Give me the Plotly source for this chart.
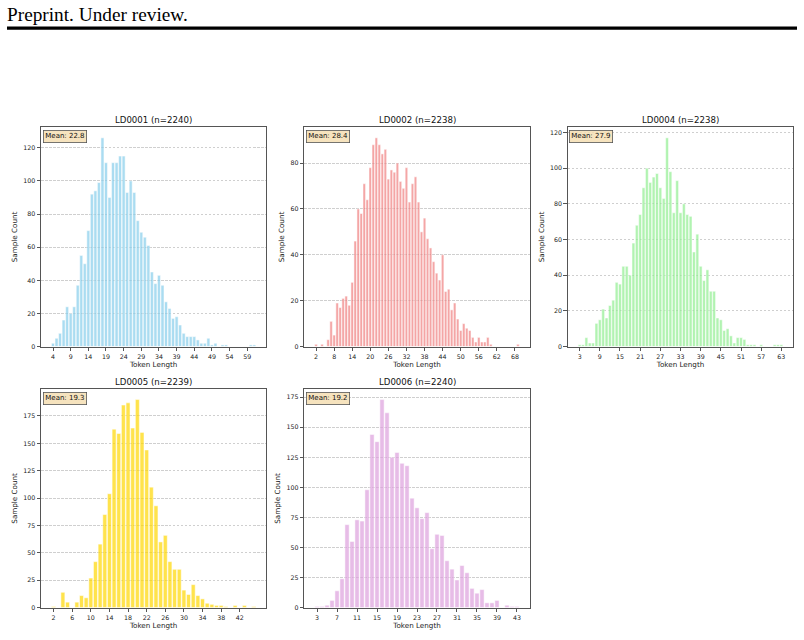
import plotly.graph_objects as go

# ---- data ----
names = ["LD0001", "LD0002", "LD0004", "LD0005", "LD0006"]
n_samples = [2240, 2238, 2238, 2239, 2240]
means = [22.8, 28.4, 27.9, 19.3, 19.2]
starts = [4, 2, 3, 2, 3]  # first token length of each histogram

counts_ld0001 = [2, 5, 8, 16, 24, 20, 24, 37, 55, 50, 70, 92, 94, 99, 126, 111, 90, 111, 111, 115,
                 115, 93, 100, 93, 76, 69, 66, 61, 45, 38, 43, 37, 27, 23, 17, 18, 13, 8, 6, 6,
                 6, 4, 2, 2, 5, 1, 2, 0, 1, 1, 0, 0, 0, 0, 0, 0, 1, 1]
counts_ld0002 = [1, 0, 1, 0, 3, 11, 5, 19, 17, 21, 22, 18, 28, 46, 60, 58, 71, 64, 78, 88,
                 91, 88, 84, 86, 73, 77, 76, 80, 72, 69, 78, 63, 71, 74, 63, 50, 56, 47, 43, 37,
                 32, 29, 40, 24, 25, 16, 19, 12, 7, 10, 8, 7, 4, 2, 4, 2, 2, 4, 1, 0,
                 0, 0, 0, 0, 0, 0, 0, 1]
counts_ld0004 = [1, 1, 5, 2, 2, 13, 15, 21, 16, 23, 26, 36, 35, 45, 45, 40, 58, 68, 74, 89,
                 100, 92, 95, 97, 89, 83, 117, 98, 75, 93, 75, 80, 74, 73, 53, 63, 45, 37, 43, 31,
                 31, 16, 15, 9, 10, 6, 2, 5, 5, 4, 1, 1, 1, 0, 1, 0, 0, 0, 1, 1, 1]
counts_ld0005 = [1, 0, 14, 5, 0, 5, 11, 9, 27, 42, 58, 85, 104, 163, 159, 185, 187, 164, 190, 160,
                 144, 110, 93, 60, 66, 42, 35, 35, 16, 12, 21, 11, 8, 4, 3, 2, 2, 1, 0, 2,
                 0, 2, 0, 1]
counts_ld0006 = [1, 1, 2, 6, 14, 24, 69, 55, 73, 72, 98, 144, 138, 173, 162, 125, 129, 120, 118, 91,
                 83, 74, 79, 49, 61, 60, 39, 32, 23, 35, 29, 16, 12, 15, 4, 4, 6, 0, 2, 1, 1]
all_counts = [counts_ld0001, counts_ld0002, counts_ld0004, counts_ld0005, counts_ld0006]

xtick_vals = [
    [4, 9, 14, 19, 24, 29, 34, 39, 44, 49, 54, 59],
    [2, 8, 14, 20, 26, 32, 38, 44, 50, 56, 62, 68],
    [3, 9, 15, 21, 27, 33, 39, 45, 51, 57, 63],
    [2, 6, 10, 14, 18, 22, 26, 30, 34, 38, 42],
    [3, 7, 11, 15, 19, 23, 27, 31, 35, 39, 43],
]
ytick_vals = [
    [0, 20, 40, 60, 80, 100, 120],
    [0, 20, 40, 60, 80],
    [0, 20, 40, 60, 80, 100, 120],
    [0, 25, 50, 75, 100, 125, 150, 175],
    [0, 25, 50, 75, 100, 125, 150, 175],
]
colors = ["#87CEEB", "#F08080", "#90EE90", "#FFD700", "#DDA0DD"]

# ---- layout geometry (pixels in an 804x640 page) ----
W, H = 804, 640
x_doms_px = [(41, 266.3), (304.3, 529.7), (567.7, 793.3), (41, 266.3), (304.3, 529.7)]
y_doms_px = [(128, 348.2), (128, 348.2), (128, 348.2), (391, 610.5), (391, 610.5)]

FONT = "DejaVu Sans"
fig = go.Figure()
annotations = []
layout_axes = {}
for i in range(5):
    k = "" if i == 0 else str(i + 1)
    cnts = all_counts[i]
    xs = list(range(starts[i], starts[i] + len(cnts)))
    fig.add_trace(go.Bar(
        x=xs, y=cnts, width=0.85,
        marker=dict(color=colors[i], opacity=0.7, line=dict(color="white", width=0.5)),
        xaxis="x" + k, yaxis="y" + k, showlegend=False, hoverinfo="x+y",
    ))
    lo, hi = xs[0] - 0.5, xs[-1] + 0.5
    pad = 0.05 * (hi - lo)
    ymax = max(cnts) * 1.05
    xd = [x_doms_px[i][0] / W, x_doms_px[i][1] / W]
    yd = [1 - y_doms_px[i][1] / H, 1 - y_doms_px[i][0] / H]
    common = dict(showline=True, mirror=True, linecolor="#555", linewidth=1,
                  ticks="outside", ticklen=3.5, tickwidth=0.8, tickcolor="#555",
                  tickfont=dict(family=FONT, size=6.3, color="#222"), zeroline=False)
    layout_axes["xaxis" + k] = dict(
        domain=xd, anchor="y" + k, range=[lo - pad, hi + pad],
        tickmode="array", tickvals=xtick_vals[i], showgrid=False,
        title=dict(text="Token Length", font=dict(family=FONT, size=7.2, color="#222"), standoff=3),
        **common)
    layout_axes["yaxis" + k] = dict(
        domain=yd, anchor="x" + k, range=[0, ymax],
        tickmode="array", tickvals=ytick_vals[i], showgrid=True,
        gridcolor="#cfcfcf", griddash="2.5px,1.5px", gridwidth=0.7,
        title=dict(text="Sample Count", font=dict(family=FONT, size=7.2, color="#222"), standoff=4),
        **common)
    annotations.append(dict(
        text=f"{names[i]} (n={n_samples[i]})", xref="x" + k + " domain", yref="y" + k + " domain",
        x=0.5, y=1, xanchor="center", yanchor="middle", yshift=7, showarrow=False,
        font=dict(family=FONT, size=8.6, color="#111")))
    annotations.append(dict(
        text=f"Mean: {means[i]}", xref="x" + k + " domain", yref="y" + k + " domain",
        x=0, y=1, xanchor="left", yanchor="top", xshift=1.5, yshift=-3, showarrow=False,
        bgcolor="rgba(245,222,179,0.85)", bordercolor="#555", borderwidth=0.8, borderpad=1.5,
        font=dict(family=FONT, size=7, color="#111")))

annotations.append(dict(
    text="Preprint. Under review.", xref="paper", yref="paper", x=5 / W, y=1 - 14.5 / H,
    xanchor="left", yanchor="middle", showarrow=False,
    font=dict(family="Liberation Serif", size=19.3, color="black")))

fig.update_layout(
    width=W, height=H, margin=dict(l=0, r=0, t=0, b=0),
    paper_bgcolor="white", plot_bgcolor="white",
    annotations=annotations,
    shapes=[dict(type="rect", xref="paper", yref="paper", x0=7 / W, x1=797 / W,
                 y0=1 - 30 / H, y1=1 - 26.5 / H, fillcolor="black", line=dict(width=0))],
    **layout_axes,
)
fig.write_html("out.html")
